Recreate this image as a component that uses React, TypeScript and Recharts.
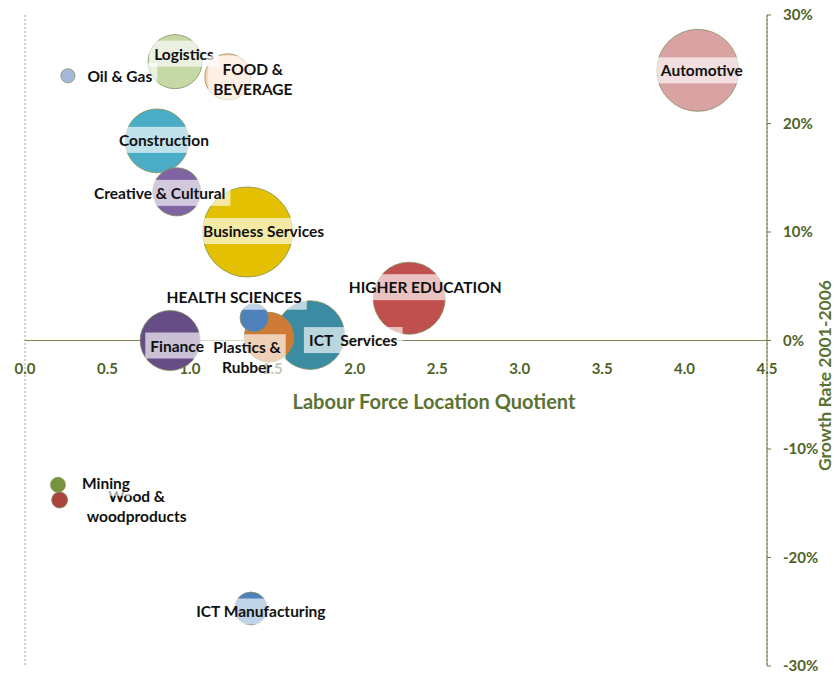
import React from 'react';
import { ScatterChart, Scatter, XAxis, YAxis, ZAxis, CartesianGrid, Cell, LabelList, ReferenceLine, ReferenceDot } from 'recharts';

// sector data
const sectors = [
  'Oil & Gas', 'Logistics', 'FOOD &\nBEVERAGE', 'Construction', 'Creative & Cultural',
  'Business Services', 'Automotive', 'HIGHER EDUCATION', 'Finance', 'HEALTH SCIENCES',
  'Plastics &\nRubber', 'ICT  Services', 'Mining', 'Wood &\nwoodproducts', 'ICT Manufacturing',
];
const locationQuotient = [0.26, 0.91, 1.23, 0.8, 0.92, 1.35, 4.08, 2.33, 0.88, 1.39, 1.48, 1.73, 0.2, 0.21, 1.37];
const growthRate = [24.4, 25.7, 24.3, 18.4, 13.7, 10.0, 24.9, 3.9, 0.0, 2.1, 0.3, 0.5, -13.3, -14.7, -24.7];
const employment = [50, 730, 530, 1020, 580, 2030, 1680, 1300, 900, 200, 620, 1180, 56, 64, 270];
const colors = [
  '#a5b8d9', '#c5d8a6', '#fcd5b5', '#4bacc6', '#8064a2',
  '#e3c100', '#d9a3a3', '#c0504d', '#674d86', '#4f81bd',
  '#d07b35', '#3b8ba2', '#77933c', '#a9443f', '#4f81bd',
];
const xTicks = [0, 0.5, 1, 1.5, 2, 2.5, 3, 3.5, 4, 4.5];
const yTicks = [-30, -20, -10, 0, 10, 20, 30];

// label block offsets from bubble centre (px)
const labelOffset: Record<string, [number, number]> = {
  'Oil & Gas': [52, 0],
  'Logistics': [9, -8],
  'FOOD &\nBEVERAGE': [25, 2],
  'Construction': [7, -1],
  'Creative & Cultural': [-17, 1],
  'Business Services': [16, -1],
  'Automotive': [4, 0],
  'HIGHER EDUCATION': [16, -11],
  'Finance': [7, 5],
  'HEALTH SCIENCES': [-20, -21],
  'Plastics &\nRubber': [-22, 20],
  'ICT  Services': [43, 5],
  'Mining': [48, -2],
  'Wood &\nwoodproducts': [77, 6],
  'ICT Manufacturing': [10, 3],
};

const FONT = 'Lato, "Open Sans", sans-serif';
const LABEL_SIZE = 15.5;
const OLIVE = '#4f6228';
const TITLE = '#5b7232';

const data = sectors
  .map((name, i) => ({ name, x: locationQuotient[i], y: growthRate[i], z: employment[i], color: colors[i] }))
  .sort((a, b) => b.z - a.z);

let ctx: CanvasRenderingContext2D | null = null;
const measure = (s: string) => {
  if (!ctx) ctx = document.createElement('canvas').getContext('2d');
  if (!ctx) return s.length * 8;
  ctx.font = `bold ${LABEL_SIZE}px ${FONT}`;
  return ctx.measureText(s).width;
};

const renderLabel = (props: any) => {
  const vb = props.viewBox || {};
  const bx = props.x ?? vb.x;
  const by = props.y ?? vb.y;
  const bw = props.width ?? vb.width ?? 0;
  const bh = props.height ?? vb.height ?? 0;
  const name = String(props.value);
  const [dx, dy] = labelOffset[name] || [0, 0];
  const cx = bx + bw / 2 + dx;
  const cy = by + bh / 2 + dy;
  const lines = name.split('\n');
  const w = Math.max(...lines.map(measure)) + 10;
  const h = lines.length * 20 + 6;
  return (
    <g key={name}>
      <rect x={cx - w / 2} y={cy - h / 2} width={w} height={h} fill="#fff" fillOpacity={0.65} />
      {lines.map((l, i) => (
        <text
          key={i}
          x={cx}
          y={cy + (i - (lines.length - 1) / 2) * 20}
          textAnchor="middle"
          dominantBaseline="central"
          fontFamily={FONT}
          fontWeight={700}
          fontSize={LABEL_SIZE}
          fill="#111"
          style={{ whiteSpace: 'pre' }}
        >
          {l}
        </text>
      ))}
    </g>
  );
};

const App = () => (
  <div style={{ position: 'absolute', left: 0, top: 0, width: 835, height: 675, background: '#fff' }}>
    <ScatterChart width={835} height={675} margin={{ top: 15, right: 0, bottom: 9, left: 25 }}>
      <CartesianGrid horizontal={false} stroke="#9ca37c" strokeDasharray="2 2" />
      <XAxis type="number" dataKey="x" domain={[0, 4.5]} ticks={xTicks} height={0} tick={false} axisLine={false} tickLine={false} />
      <YAxis
        type="number"
        dataKey="y"
        orientation="right"
        domain={[-30, 30]}
        ticks={yTicks}
        width={68}
        stroke="#6b7a3c"
        tickSize={4}
        tickMargin={12}
        tickFormatter={(v: number) => `${v}%`}
        tick={{ fill: OLIVE, fontSize: 15, fontWeight: 700, fontFamily: FONT }}
        label={{
          content: ({ viewBox }: any) => {
            const x = viewBox.x + 57;
            const y = viewBox.y + viewBox.height / 2 + 35;
            return (
              <text x={x} y={y} transform={`rotate(-90 ${x} ${y})`} textAnchor="middle" dominantBaseline="central"
                fontFamily={FONT} fontWeight={700} fontSize={17.5} fill={TITLE}>
                Growth Rate 2001-2006
              </text>
            );
          },
        }}
      />
      <ZAxis type="number" dataKey="z" domain={[0, 2500]} range={[0, 2500 * Math.PI]} />
      <ReferenceLine
        y={0}
        stroke="#7f8a52"
        label={{
          content: ({ viewBox }: any) => (
            <text x={viewBox.x + viewBox.width / 2 + 38} y={viewBox.y + 60} textAnchor="middle" dominantBaseline="central"
              fontFamily={FONT} fontWeight={700} fontSize={20} fill={TITLE}>
              Labour Force Location Quotient
            </text>
          ),
        }}
      />
      {xTicks.map(t => (
        <ReferenceDot
          key={t}
          x={t}
          y={0}
          r={0}
          stroke="none"
          fill="none"
          label={{
            content: ({ viewBox }: any) => (
              <text x={viewBox.x + (viewBox.width || 0) / 2} y={viewBox.y + 27} textAnchor="middle" dominantBaseline="central"
                fontFamily={FONT} fontWeight={700} fontSize={15} fill={OLIVE}>
                {t.toFixed(1)}
              </text>
            ),
          }}
        />
      ))}
      <Scatter data={data} isAnimationActive={false} shape="circle">
        {data.map(d => (
          <Cell key={d.name} fill={d.color} stroke="#858f5e" strokeWidth={0.8} />
        ))}
        <LabelList dataKey="name" content={renderLabel} />
      </Scatter>
    </ScatterChart>
  </div>
);

export default App;
